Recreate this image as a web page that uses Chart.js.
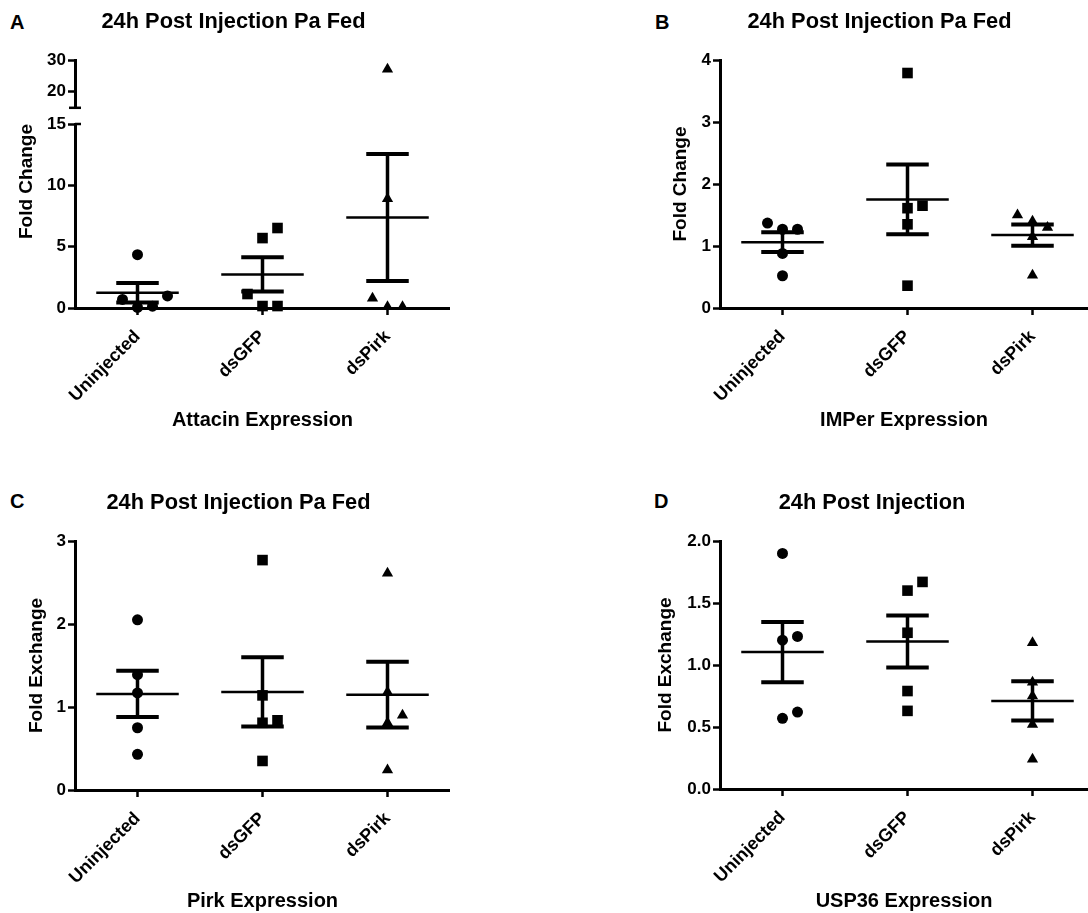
<!DOCTYPE html>
<html lang="en">
  <head>
    <meta charset="UTF-8" />
    <title>24h Post Injection</title>
    <script src="https://cdn.jsdelivr.net/npm/chart.js"></script>
    <style>
      body {
        margin: 0;
        background-color: #ffffff;
        width: 1088px;
        height: 913px;
        overflow: hidden;
        position: relative;
        font-family: "Liberation Sans", Arial, sans-serif;
      }
      canvas {
        position: absolute;
      }
      .letter {
        position: absolute;
        font-weight: bold;
        font-size: 20px;
        line-height: 20px;
        color: #000;
      }
    </style>
  </head>
  <body>
    <div class="letter" style="left: 10px; top: 12px">A</div>
    <div class="letter" style="left: 655px; top: 12px">B</div>
    <div class="letter" style="left: 10px; top: 491px">C</div>
    <div class="letter" style="left: 654px; top: 491px">D</div>

    <canvas id="attacinHigh" width="433" height="120" style="left: 17px; top: 0px"></canvas>
    <canvas id="attacinLow" width="433" height="330" style="left: 17px; top: 110px"></canvas>
    <canvas id="imper" width="417" height="440" style="left: 671px; top: 0px"></canvas>
    <canvas id="pirk" width="423" height="443" style="left: 27px; top: 470px"></canvas>
    <canvas id="usp36" width="432" height="443" style="left: 656px; top: 470px"></canvas>

    <script>
      // Datos (fold change por grupo)
      const groups = ["Uninjected", "dsGFP", "dsPirk"];

      const attacinUninjected = [4.35, 0.7, 0.05, 0.15, 0.98];
      const attacinDsGFP = [6.52, 5.7, 1.14, 0.16, 0.16];
      const attacinDsPirk = [27.0, 8.9, 0.8, 0.1, 0.1];

      const imperUninjected = [1.37, 1.27, 1.27, 0.88, 0.52];
      const imperDsGFP = [3.79, 1.61, 1.65, 1.35, 0.36];
      const imperDsPirk = [1.5, 1.4, 1.3, 1.15, 0.53];

      const pirkUninjected = [2.05, 1.39, 1.17, 0.75, 0.43];
      const pirkDsGFP = [2.77, 1.14, 0.84, 0.81, 0.35];
      const pirkDsPirk = [2.61, 1.18, 0.9, 0.81, 0.24];

      const uspUninjected = [1.9, 1.23, 1.2, 0.62, 0.57];
      const uspDsGFP = [1.67, 1.6, 1.26, 0.79, 0.63];
      const uspDsPirk = [1.18, 0.86, 0.75, 0.52, 0.24];

      const attacinTicksLow = [0, 5, 10, 15];
      const attacinTicksHigh = [20, 30];
      const imperTicks = [0, 1, 2, 3, 4];
      const pirkTicks = [0, 1, 2, 3];
      const uspTicks = [0, 0.5, 1.0, 1.5, 2.0];

      // Estilo
      const FONT = "'Liberation Sans', Arial, sans-serif";
      const MARKERS = ["circle", "rect", "triangle"];
      const RADII = [5.5, 7.5, 6.5];
      const SLOT = 0.12; // separacion horizontal de puntos que se tocan
      const MEAN_HALF = 0.33;
      const CAP_HALF = 0.17;

      function mean(a) {
        return a.reduce((s, v) => s + v, 0) / a.length;
      }
      function sem(a) {
        const m = mean(a);
        const v = a.reduce((s, x) => s + (x - m) * (x - m), 0) / (a.length - 1);
        return Math.sqrt(v) / Math.sqrt(a.length);
      }

      // coloca puntos cercanos uno al lado del otro (como un scatter de columnas)
      function spread(values, tol) {
        const order = values.map((v, i) => i).sort((a, b) => values[a] - values[b]);
        const slots = [0, 1, -1, 2, -2, 3, -3];
        const placed = [];
        const out = [];
        order.forEach((i) => {
          const v = values[i];
          const s = slots.find(
            (s) => !placed.some((p) => p.s === s && Math.abs(p.v - v) < tol)
          );
          placed.push({ s, v });
          out[i] = s;
        });
        return out;
      }

      function buildDatasets(series, tol, clip) {
        const ds = [];
        series.forEach((vals, g) => {
          const slots = spread(vals, tol);
          ds.push({
            data: vals.map((v, k) => ({ x: g + slots[k] * SLOT, y: v })),
            pointStyle: MARKERS[g],
            pointRadius: RADII[g],
            backgroundColor: "#000",
            borderColor: "#000",
            borderWidth: 0,
            clip: clip,
          });
        });

        // media y error estandar
        const meanLine = [];
        const semLine = [];
        const caps = [];
        series.forEach((vals, g) => {
          const m = mean(vals);
          const s = sem(vals);
          meanLine.push({ x: g - MEAN_HALF, y: m }, { x: g + MEAN_HALF, y: m }, { x: g, y: null });
          semLine.push({ x: g, y: m - s }, { x: g, y: m + s }, { x: g, y: null });
          caps.push(
            { x: g - CAP_HALF, y: m + s },
            { x: g + CAP_HALF, y: m + s },
            { x: g, y: null },
            { x: g - CAP_HALF, y: m - s },
            { x: g + CAP_HALF, y: m - s },
            { x: g, y: null }
          );
        });
        const line = (data, w) => ({
          data: data,
          showLine: true,
          spanGaps: false,
          pointRadius: 0,
          borderColor: "#000",
          borderWidth: w,
          borderCapStyle: "butt",
          clip: clip,
        });
        ds.push(line(meanLine, 2.5), line(semLine, 3.5), line(caps, 4));
        return ds;
      }

      function makeChart(id, p) {
        const pxPerUnit = p.plotHeight / (p.yMax - p.yMin);
        const tol = 12.5 / pxPerUnit;
        const clip = p.clip === undefined ? false : p.clip;

        return new Chart(document.getElementById(id), {
          type: "scatter",
          data: { datasets: buildDatasets(p.series, tol, clip) },
          plugins: p.plugins || [],
          options: {
            responsive: false,
            animation: false,
            events: [],
            layout: { padding: p.padding, autoPadding: false },
            plugins: {
              legend: { display: false },
              tooltip: { enabled: false },
              title: {
                display: !!p.title,
                text: p.title,
                color: "#000",
                font: { family: FONT, size: 21.8, weight: "bold" },
                padding: p.titlePad,
              },
            },
            scales: {
              x: {
                type: "linear",
                display: p.showX,
                min: -0.5,
                max: p.xMax,
                afterBuildTicks: (s) => {
                  s.ticks = groups.map((_, i) => ({ value: i }));
                },
                afterFit: (s) => {
                  s.height = p.xHeight;
                },
                ticks: {
                  autoSkip: false,
                  minRotation: 45,
                  maxRotation: 45,
                  padding: 11,
                  color: "#000",
                  font: { family: FONT, size: 18, weight: "bold" },
                  callback: (v) => groups[v],
                },
                grid: {
                  drawOnChartArea: false,
                  tickLength: 7,
                  tickWidth: 2.5,
                  tickColor: "#000",
                },
                border: { display: true, color: "#000", width: 3 },
                title: {
                  display: !!p.xTitle,
                  text: p.xTitle,
                  color: "#000",
                  font: { family: FONT, size: 20, weight: "bold" },
                  padding: { top: 0, bottom: p.xTitlePad },
                },
              },
              y: {
                type: "linear",
                min: p.yMin,
                max: p.yMax,
                afterBuildTicks: (s) => {
                  s.ticks = p.yTicks.map((v) => ({ value: v }));
                },
                afterFit: (s) => {
                  s.width = p.yWidth;
                },
                ticks: {
                  padding: 2,
                  color: "#000",
                  font: { family: FONT, size: 17, weight: "bold" },
                  callback: (v) => (p.decimals ? v.toFixed(p.decimals) : String(v)),
                },
                grid: {
                  drawOnChartArea: false,
                  tickLength: 7,
                  tickWidth: 2.5,
                  tickColor: "#000",
                },
                border: { display: true, color: "#000", width: 3 },
                title: {
                  display: !!p.yTitle,
                  text: p.yTitle,
                  align: p.yAlign || "center",
                  color: "#000",
                  font: { family: FONT, size: 19, weight: "bold", lineHeight: 1 },
                  padding: { top: 0, bottom: 0 },
                },
              },
            },
          },
        });
      }

      // marcas del corte del eje Y (panel A)
      const breakBottom = {
        id: "breakBottom",
        afterDraw(chart) {
          const { ctx, chartArea } = chart;
          ctx.save();
          ctx.strokeStyle = "#000";
          ctx.lineWidth = 2.5;
          ctx.beginPath();
          ctx.moveTo(chartArea.left - 6, chartArea.bottom);
          ctx.lineTo(chartArea.left + 6, chartArea.bottom);
          ctx.stroke();
          ctx.restore();
        },
      };
      const breakTop = {
        id: "breakTop",
        afterDraw(chart) {
          const { ctx, chartArea } = chart;
          ctx.save();
          ctx.strokeStyle = "#000";
          ctx.lineWidth = 2.5;
          ctx.beginPath();
          ctx.moveTo(chartArea.left, chartArea.top);
          ctx.lineTo(chartArea.left + 6, chartArea.top);
          ctx.stroke();
          ctx.restore();
        },
      };

      const attacinSeries = [attacinUninjected, attacinDsGFP, attacinDsPirk];

      // Panel A - parte alta del eje cortado
      makeChart("attacinHigh", {
        series: attacinSeries,
        title: "24h Post Injection Pa Fed",
        titlePad: { top: 8.9, bottom: 24.94 },
        padding: { left: 0, right: 0, top: 0, bottom: 4 },
        showX: false,
        xMax: 2.5,
        xHeight: 0,
        yMin: 14.67,
        yMax: 30,
        yTicks: attacinTicksHigh,
        yWidth: 58,
        plotHeight: 184,
        clip: { left: false, right: false, top: false, bottom: 0 },
        plugins: [breakBottom],
      });

      // Panel A - parte baja
      makeChart("attacinLow", {
        series: attacinSeries,
        padding: { left: 0, right: 0, top: 14, bottom: 0 },
        showX: true,
        xMax: 2.5,
        xHeight: 132,
        xTitle: "Attacin Expression",
        xTitlePad: 8,
        yMin: 0,
        yMax: 15,
        yTicks: attacinTicksLow,
        yWidth: 58,
        yTitle: "Fold Change",
        yAlign: "end",
        plotHeight: 184,
        clip: { left: false, right: false, top: 0, bottom: false },
        plugins: [breakTop],
      });

      // Panel B
      makeChart("imper", {
        series: [imperUninjected, imperDsGFP, imperDsPirk],
        title: "24h Post Injection Pa Fed",
        titlePad: { top: 8.9, bottom: 24.94 },
        padding: { left: 0, right: 0, top: 0, bottom: 0 },
        showX: true,
        xMax: 2.444,
        xHeight: 132,
        xTitle: "IMPer Expression",
        xTitlePad: 8,
        yMin: 0,
        yMax: 4,
        yTicks: imperTicks,
        yWidth: 49,
        yTitle: "Fold Change",
        plotHeight: 248,
      });

      // Panel C
      makeChart("pirk", {
        series: [pirkUninjected, pirkDsGFP, pirkDsPirk],
        title: "24h Post Injection Pa Fed",
        titlePad: { top: 19.9, bottom: 24.94 },
        padding: { left: 0, right: 0, top: 0, bottom: 0 },
        showX: true,
        xMax: 2.5,
        xHeight: 123,
        xTitle: "Pirk Expression",
        xTitlePad: 0,
        yMin: 0,
        yMax: 3,
        yTicks: pirkTicks,
        yWidth: 48,
        yTitle: "Fold Exchange",
        plotHeight: 249,
      });

      // Panel D
      makeChart("usp36", {
        series: [uspUninjected, uspDsGFP, uspDsPirk],
        title: "24h Post Injection",
        titlePad: { top: 19.9, bottom: 24.94 },
        padding: { left: 0, right: 0, top: 0, bottom: 0 },
        showX: true,
        xMax: 2.444,
        xHeight: 124,
        xTitle: "USP36 Expression",
        xTitlePad: 0,
        yMin: 0,
        yMax: 2,
        yTicks: uspTicks,
        decimals: 1,
        yWidth: 64,
        yTitle: "Fold Exchange",
        plotHeight: 248,
      });
    </script>
  </body>
</html>
